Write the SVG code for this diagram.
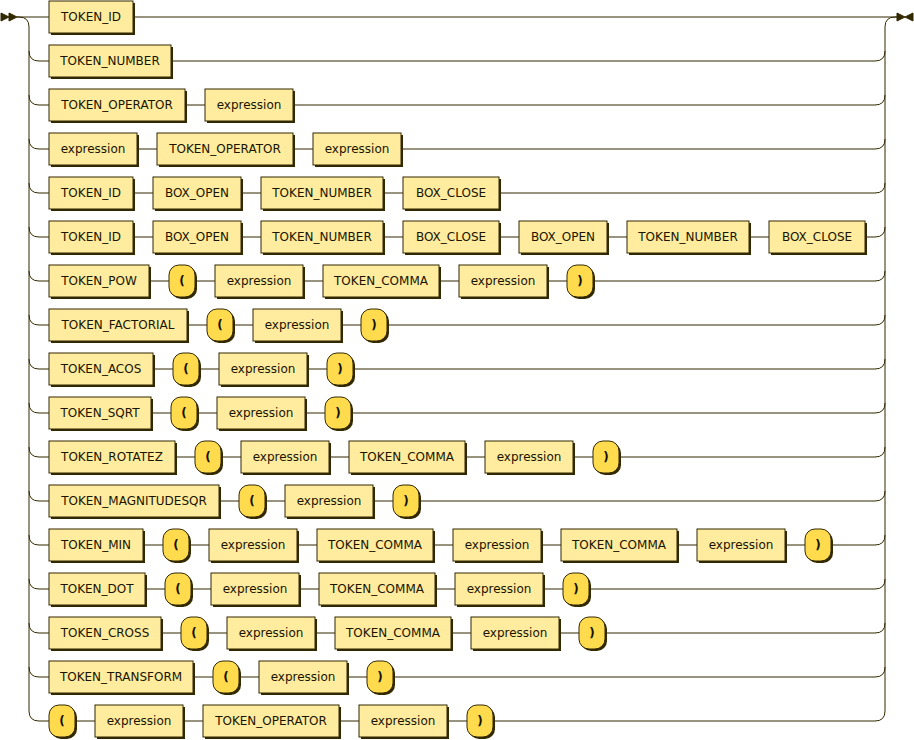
<svg xmlns="http://www.w3.org/2000/svg" width="914" height="740" viewBox="0 0 914 740">
<style>
.line{fill:none;stroke:#332900;stroke-width:1}
.arrow{fill:#332900;stroke:#332900;stroke-width:1}
.s{fill:#332900}
.nt{fill:#FFEC9E;stroke:#332900;stroke-width:1}
.t{fill:#FFDB4D;stroke:#332900;stroke-width:1}
text{font-family:"DejaVu Sans",Verdana,sans-serif;font-size:12px;text-anchor:middle}
.tn{fill:#1A1400}
.tt{fill:#141000;font-weight:bold}
</style>
<rect width="914" height="740" fill="#FFFFFF"/>
<g id="connectors">
<polygon class="arrow" points="9 17 1 13 1 21"/>
<polygon class="arrow" points="17 17 9 13 9 21"/>
<polygon class="arrow" points="905 17 913 13 913 21"/>
<polygon class="arrow" points="905 17 897 13 897 21"/>
<path class="line" d="M17 17 H49 M133 17 H897"/>
<path class="line" d="M17 17 H19 q10 0 10 10 V711"/>
<path class="line" d="M897 17 H895 q-10 0 -10 10 V711"/>
<path class="line" d="M29 51 q0 10 10 10 H49 M171 61 H875 q10 0 10 -10"/>
<path class="line" d="M29 95 q0 10 10 10 H49 M185 105 H205 M293 105 H875 q10 0 10 -10"/>
<path class="line" d="M29 139 q0 10 10 10 H49 M137 149 H157 M293 149 H313 M401 149 H875 q10 0 10 -10"/>
<path class="line" d="M29 183 q0 10 10 10 H49 M133 193 H153 M241 193 H261 M383 193 H403 M499 193 H875 q10 0 10 -10"/>
<path class="line" d="M29 227 q0 10 10 10 H49 M133 237 H153 M241 237 H261 M383 237 H403 M499 237 H519 M607 237 H627 M749 237 H769 M865 237 H875 q10 0 10 -10"/>
<path class="line" d="M29 271 q0 10 10 10 H49 M149 281 H169 M195 281 H215 M303 281 H323 M439 281 H459 M547 281 H567 M593 281 H875 q10 0 10 -10"/>
<path class="line" d="M29 315 q0 10 10 10 H49 M187 325 H207 M233 325 H253 M341 325 H361 M387 325 H875 q10 0 10 -10"/>
<path class="line" d="M29 359 q0 10 10 10 H49 M153 369 H173 M199 369 H219 M307 369 H327 M353 369 H875 q10 0 10 -10"/>
<path class="line" d="M29 403 q0 10 10 10 H49 M151 413 H171 M197 413 H217 M305 413 H325 M351 413 H875 q10 0 10 -10"/>
<path class="line" d="M29 447 q0 10 10 10 H49 M175 457 H195 M221 457 H241 M329 457 H349 M465 457 H485 M573 457 H593 M619 457 H875 q10 0 10 -10"/>
<path class="line" d="M29 491 q0 10 10 10 H49 M219 501 H239 M265 501 H285 M373 501 H393 M419 501 H875 q10 0 10 -10"/>
<path class="line" d="M29 535 q0 10 10 10 H49 M143 545 H163 M189 545 H209 M297 545 H317 M433 545 H453 M541 545 H561 M677 545 H697 M785 545 H805 M831 545 H875 q10 0 10 -10"/>
<path class="line" d="M29 579 q0 10 10 10 H49 M145 589 H165 M191 589 H211 M299 589 H319 M435 589 H455 M543 589 H563 M589 589 H875 q10 0 10 -10"/>
<path class="line" d="M29 623 q0 10 10 10 H49 M161 633 H181 M207 633 H227 M315 633 H335 M451 633 H471 M559 633 H579 M605 633 H875 q10 0 10 -10"/>
<path class="line" d="M29 667 q0 10 10 10 H49 M193 677 H213 M239 677 H259 M347 677 H367 M393 677 H875 q10 0 10 -10"/>
<path class="line" d="M29 711 q0 10 10 10 H49 M75 721 H95 M183 721 H203 M339 721 H359 M447 721 H467 M493 721 H875 q10 0 10 -10"/>
</g>

<g id="row0">
<g id="r0n0"><rect class="s" x="51" y="3" width="84" height="32"/><rect class="nt" x="49" y="1" width="84" height="32"/><text class="tn" x="91" y="21">TOKEN_ID</text></g>
</g>
<g id="row1" transform="translate(0,44)">
<g id="r1n0"><rect class="s" x="51" y="3" width="122" height="32"/><rect class="nt" x="49" y="1" width="122" height="32"/><text class="tn" x="110" y="21">TOKEN_NUMBER</text></g>
</g>
<g id="row2" transform="translate(0,88)">
<g id="r2n0"><rect class="s" x="51" y="3" width="136" height="32"/><rect class="nt" x="49" y="1" width="136" height="32"/><text class="tn" x="117" y="21">TOKEN_OPERATOR</text></g>
<g id="r2n1"><rect class="s" x="207" y="3" width="88" height="32"/><rect class="nt" x="205" y="1" width="88" height="32"/><text class="tn" x="249" y="21">expression</text></g>
</g>
<g id="row3" transform="translate(0,132)">
<g id="r3n0"><rect class="s" x="51" y="3" width="88" height="32"/><rect class="nt" x="49" y="1" width="88" height="32"/><text class="tn" x="93" y="21">expression</text></g>
<g id="r3n1"><rect class="s" x="159" y="3" width="136" height="32"/><rect class="nt" x="157" y="1" width="136" height="32"/><text class="tn" x="225" y="21">TOKEN_OPERATOR</text></g>
<g id="r3n2"><rect class="s" x="315" y="3" width="88" height="32"/><rect class="nt" x="313" y="1" width="88" height="32"/><text class="tn" x="357" y="21">expression</text></g>
</g>
<g id="row4" transform="translate(0,176)">
<g id="r4n0"><rect class="s" x="51" y="3" width="84" height="32"/><rect class="nt" x="49" y="1" width="84" height="32"/><text class="tn" x="91" y="21">TOKEN_ID</text></g>
<g id="r4n1"><rect class="s" x="155" y="3" width="88" height="32"/><rect class="nt" x="153" y="1" width="88" height="32"/><text class="tn" x="197" y="21">BOX_OPEN</text></g>
<g id="r4n2"><rect class="s" x="263" y="3" width="122" height="32"/><rect class="nt" x="261" y="1" width="122" height="32"/><text class="tn" x="322" y="21">TOKEN_NUMBER</text></g>
<g id="r4n3"><rect class="s" x="405" y="3" width="96" height="32"/><rect class="nt" x="403" y="1" width="96" height="32"/><text class="tn" x="451" y="21">BOX_CLOSE</text></g>
</g>
<g id="row5" transform="translate(0,220)">
<g id="r5n0"><rect class="s" x="51" y="3" width="84" height="32"/><rect class="nt" x="49" y="1" width="84" height="32"/><text class="tn" x="91" y="21">TOKEN_ID</text></g>
<g id="r5n1"><rect class="s" x="155" y="3" width="88" height="32"/><rect class="nt" x="153" y="1" width="88" height="32"/><text class="tn" x="197" y="21">BOX_OPEN</text></g>
<g id="r5n2"><rect class="s" x="263" y="3" width="122" height="32"/><rect class="nt" x="261" y="1" width="122" height="32"/><text class="tn" x="322" y="21">TOKEN_NUMBER</text></g>
<g id="r5n3"><rect class="s" x="405" y="3" width="96" height="32"/><rect class="nt" x="403" y="1" width="96" height="32"/><text class="tn" x="451" y="21">BOX_CLOSE</text></g>
<g id="r5n4"><rect class="s" x="521" y="3" width="88" height="32"/><rect class="nt" x="519" y="1" width="88" height="32"/><text class="tn" x="563" y="21">BOX_OPEN</text></g>
<g id="r5n5"><rect class="s" x="629" y="3" width="122" height="32"/><rect class="nt" x="627" y="1" width="122" height="32"/><text class="tn" x="688" y="21">TOKEN_NUMBER</text></g>
<g id="r5n6"><rect class="s" x="771" y="3" width="96" height="32"/><rect class="nt" x="769" y="1" width="96" height="32"/><text class="tn" x="817" y="21">BOX_CLOSE</text></g>
</g>
<g id="row6" transform="translate(0,264)">
<g id="r6n0"><rect class="s" x="51" y="3" width="100" height="32"/><rect class="nt" x="49" y="1" width="100" height="32"/><text class="tn" x="99" y="21">TOKEN_POW</text></g>
<g id="r6n1"><rect class="s" x="171" y="3" width="26" height="32" rx="10"/><rect class="t" x="169" y="1" width="26" height="32" rx="10"/><text class="tt" x="182" y="21">(</text></g>
<g id="r6n2"><rect class="s" x="217" y="3" width="88" height="32"/><rect class="nt" x="215" y="1" width="88" height="32"/><text class="tn" x="259" y="21">expression</text></g>
<g id="r6n3"><rect class="s" x="325" y="3" width="116" height="32"/><rect class="nt" x="323" y="1" width="116" height="32"/><text class="tn" x="381" y="21">TOKEN_COMMA</text></g>
<g id="r6n4"><rect class="s" x="461" y="3" width="88" height="32"/><rect class="nt" x="459" y="1" width="88" height="32"/><text class="tn" x="503" y="21">expression</text></g>
<g id="r6n5"><rect class="s" x="569" y="3" width="26" height="32" rx="10"/><rect class="t" x="567" y="1" width="26" height="32" rx="10"/><text class="tt" x="580" y="21">)</text></g>
</g>
<g id="row7" transform="translate(0,308)">
<g id="r7n0"><rect class="s" x="51" y="3" width="138" height="32"/><rect class="nt" x="49" y="1" width="138" height="32"/><text class="tn" x="118" y="21">TOKEN_FACTORIAL</text></g>
<g id="r7n1"><rect class="s" x="209" y="3" width="26" height="32" rx="10"/><rect class="t" x="207" y="1" width="26" height="32" rx="10"/><text class="tt" x="220" y="21">(</text></g>
<g id="r7n2"><rect class="s" x="255" y="3" width="88" height="32"/><rect class="nt" x="253" y="1" width="88" height="32"/><text class="tn" x="297" y="21">expression</text></g>
<g id="r7n3"><rect class="s" x="363" y="3" width="26" height="32" rx="10"/><rect class="t" x="361" y="1" width="26" height="32" rx="10"/><text class="tt" x="374" y="21">)</text></g>
</g>
<g id="row8" transform="translate(0,352)">
<g id="r8n0"><rect class="s" x="51" y="3" width="104" height="32"/><rect class="nt" x="49" y="1" width="104" height="32"/><text class="tn" x="101" y="21">TOKEN_ACOS</text></g>
<g id="r8n1"><rect class="s" x="175" y="3" width="26" height="32" rx="10"/><rect class="t" x="173" y="1" width="26" height="32" rx="10"/><text class="tt" x="186" y="21">(</text></g>
<g id="r8n2"><rect class="s" x="221" y="3" width="88" height="32"/><rect class="nt" x="219" y="1" width="88" height="32"/><text class="tn" x="263" y="21">expression</text></g>
<g id="r8n3"><rect class="s" x="329" y="3" width="26" height="32" rx="10"/><rect class="t" x="327" y="1" width="26" height="32" rx="10"/><text class="tt" x="340" y="21">)</text></g>
</g>
<g id="row9" transform="translate(0,396)">
<g id="r9n0"><rect class="s" x="51" y="3" width="102" height="32"/><rect class="nt" x="49" y="1" width="102" height="32"/><text class="tn" x="100" y="21">TOKEN_SQRT</text></g>
<g id="r9n1"><rect class="s" x="173" y="3" width="26" height="32" rx="10"/><rect class="t" x="171" y="1" width="26" height="32" rx="10"/><text class="tt" x="184" y="21">(</text></g>
<g id="r9n2"><rect class="s" x="219" y="3" width="88" height="32"/><rect class="nt" x="217" y="1" width="88" height="32"/><text class="tn" x="261" y="21">expression</text></g>
<g id="r9n3"><rect class="s" x="327" y="3" width="26" height="32" rx="10"/><rect class="t" x="325" y="1" width="26" height="32" rx="10"/><text class="tt" x="338" y="21">)</text></g>
</g>
<g id="row10" transform="translate(0,440)">
<g id="r10n0"><rect class="s" x="51" y="3" width="126" height="32"/><rect class="nt" x="49" y="1" width="126" height="32"/><text class="tn" x="112" y="21">TOKEN_ROTATEZ</text></g>
<g id="r10n1"><rect class="s" x="197" y="3" width="26" height="32" rx="10"/><rect class="t" x="195" y="1" width="26" height="32" rx="10"/><text class="tt" x="208" y="21">(</text></g>
<g id="r10n2"><rect class="s" x="243" y="3" width="88" height="32"/><rect class="nt" x="241" y="1" width="88" height="32"/><text class="tn" x="285" y="21">expression</text></g>
<g id="r10n3"><rect class="s" x="351" y="3" width="116" height="32"/><rect class="nt" x="349" y="1" width="116" height="32"/><text class="tn" x="407" y="21">TOKEN_COMMA</text></g>
<g id="r10n4"><rect class="s" x="487" y="3" width="88" height="32"/><rect class="nt" x="485" y="1" width="88" height="32"/><text class="tn" x="529" y="21">expression</text></g>
<g id="r10n5"><rect class="s" x="595" y="3" width="26" height="32" rx="10"/><rect class="t" x="593" y="1" width="26" height="32" rx="10"/><text class="tt" x="606" y="21">)</text></g>
</g>
<g id="row11" transform="translate(0,484)">
<g id="r11n0"><rect class="s" x="51" y="3" width="170" height="32"/><rect class="nt" x="49" y="1" width="170" height="32"/><text class="tn" x="134" y="21">TOKEN_MAGNITUDESQR</text></g>
<g id="r11n1"><rect class="s" x="241" y="3" width="26" height="32" rx="10"/><rect class="t" x="239" y="1" width="26" height="32" rx="10"/><text class="tt" x="252" y="21">(</text></g>
<g id="r11n2"><rect class="s" x="287" y="3" width="88" height="32"/><rect class="nt" x="285" y="1" width="88" height="32"/><text class="tn" x="329" y="21">expression</text></g>
<g id="r11n3"><rect class="s" x="395" y="3" width="26" height="32" rx="10"/><rect class="t" x="393" y="1" width="26" height="32" rx="10"/><text class="tt" x="406" y="21">)</text></g>
</g>
<g id="row12" transform="translate(0,528)">
<g id="r12n0"><rect class="s" x="51" y="3" width="94" height="32"/><rect class="nt" x="49" y="1" width="94" height="32"/><text class="tn" x="96" y="21">TOKEN_MIN</text></g>
<g id="r12n1"><rect class="s" x="165" y="3" width="26" height="32" rx="10"/><rect class="t" x="163" y="1" width="26" height="32" rx="10"/><text class="tt" x="176" y="21">(</text></g>
<g id="r12n2"><rect class="s" x="211" y="3" width="88" height="32"/><rect class="nt" x="209" y="1" width="88" height="32"/><text class="tn" x="253" y="21">expression</text></g>
<g id="r12n3"><rect class="s" x="319" y="3" width="116" height="32"/><rect class="nt" x="317" y="1" width="116" height="32"/><text class="tn" x="375" y="21">TOKEN_COMMA</text></g>
<g id="r12n4"><rect class="s" x="455" y="3" width="88" height="32"/><rect class="nt" x="453" y="1" width="88" height="32"/><text class="tn" x="497" y="21">expression</text></g>
<g id="r12n5"><rect class="s" x="563" y="3" width="116" height="32"/><rect class="nt" x="561" y="1" width="116" height="32"/><text class="tn" x="619" y="21">TOKEN_COMMA</text></g>
<g id="r12n6"><rect class="s" x="699" y="3" width="88" height="32"/><rect class="nt" x="697" y="1" width="88" height="32"/><text class="tn" x="741" y="21">expression</text></g>
<g id="r12n7"><rect class="s" x="807" y="3" width="26" height="32" rx="10"/><rect class="t" x="805" y="1" width="26" height="32" rx="10"/><text class="tt" x="818" y="21">)</text></g>
</g>
<g id="row13" transform="translate(0,572)">
<g id="r13n0"><rect class="s" x="51" y="3" width="96" height="32"/><rect class="nt" x="49" y="1" width="96" height="32"/><text class="tn" x="97" y="21">TOKEN_DOT</text></g>
<g id="r13n1"><rect class="s" x="167" y="3" width="26" height="32" rx="10"/><rect class="t" x="165" y="1" width="26" height="32" rx="10"/><text class="tt" x="178" y="21">(</text></g>
<g id="r13n2"><rect class="s" x="213" y="3" width="88" height="32"/><rect class="nt" x="211" y="1" width="88" height="32"/><text class="tn" x="255" y="21">expression</text></g>
<g id="r13n3"><rect class="s" x="321" y="3" width="116" height="32"/><rect class="nt" x="319" y="1" width="116" height="32"/><text class="tn" x="377" y="21">TOKEN_COMMA</text></g>
<g id="r13n4"><rect class="s" x="457" y="3" width="88" height="32"/><rect class="nt" x="455" y="1" width="88" height="32"/><text class="tn" x="499" y="21">expression</text></g>
<g id="r13n5"><rect class="s" x="565" y="3" width="26" height="32" rx="10"/><rect class="t" x="563" y="1" width="26" height="32" rx="10"/><text class="tt" x="576" y="21">)</text></g>
</g>
<g id="row14" transform="translate(0,616)">
<g id="r14n0"><rect class="s" x="51" y="3" width="112" height="32"/><rect class="nt" x="49" y="1" width="112" height="32"/><text class="tn" x="105" y="21">TOKEN_CROSS</text></g>
<g id="r14n1"><rect class="s" x="183" y="3" width="26" height="32" rx="10"/><rect class="t" x="181" y="1" width="26" height="32" rx="10"/><text class="tt" x="194" y="21">(</text></g>
<g id="r14n2"><rect class="s" x="229" y="3" width="88" height="32"/><rect class="nt" x="227" y="1" width="88" height="32"/><text class="tn" x="271" y="21">expression</text></g>
<g id="r14n3"><rect class="s" x="337" y="3" width="116" height="32"/><rect class="nt" x="335" y="1" width="116" height="32"/><text class="tn" x="393" y="21">TOKEN_COMMA</text></g>
<g id="r14n4"><rect class="s" x="473" y="3" width="88" height="32"/><rect class="nt" x="471" y="1" width="88" height="32"/><text class="tn" x="515" y="21">expression</text></g>
<g id="r14n5"><rect class="s" x="581" y="3" width="26" height="32" rx="10"/><rect class="t" x="579" y="1" width="26" height="32" rx="10"/><text class="tt" x="592" y="21">)</text></g>
</g>
<g id="row15" transform="translate(0,660)">
<g id="r15n0"><rect class="s" x="51" y="3" width="144" height="32"/><rect class="nt" x="49" y="1" width="144" height="32"/><text class="tn" x="121" y="21">TOKEN_TRANSFORM</text></g>
<g id="r15n1"><rect class="s" x="215" y="3" width="26" height="32" rx="10"/><rect class="t" x="213" y="1" width="26" height="32" rx="10"/><text class="tt" x="226" y="21">(</text></g>
<g id="r15n2"><rect class="s" x="261" y="3" width="88" height="32"/><rect class="nt" x="259" y="1" width="88" height="32"/><text class="tn" x="303" y="21">expression</text></g>
<g id="r15n3"><rect class="s" x="369" y="3" width="26" height="32" rx="10"/><rect class="t" x="367" y="1" width="26" height="32" rx="10"/><text class="tt" x="380" y="21">)</text></g>
</g>
<g id="row16" transform="translate(0,704)">
<g id="r16n0"><rect class="s" x="51" y="3" width="26" height="32" rx="10"/><rect class="t" x="49" y="1" width="26" height="32" rx="10"/><text class="tt" x="62" y="21">(</text></g>
<g id="r16n1"><rect class="s" x="97" y="3" width="88" height="32"/><rect class="nt" x="95" y="1" width="88" height="32"/><text class="tn" x="139" y="21">expression</text></g>
<g id="r16n2"><rect class="s" x="205" y="3" width="136" height="32"/><rect class="nt" x="203" y="1" width="136" height="32"/><text class="tn" x="271" y="21">TOKEN_OPERATOR</text></g>
<g id="r16n3"><rect class="s" x="361" y="3" width="88" height="32"/><rect class="nt" x="359" y="1" width="88" height="32"/><text class="tn" x="403" y="21">expression</text></g>
<g id="r16n4"><rect class="s" x="469" y="3" width="26" height="32" rx="10"/><rect class="t" x="467" y="1" width="26" height="32" rx="10"/><text class="tt" x="480" y="21">)</text></g>
</g>
</svg>
